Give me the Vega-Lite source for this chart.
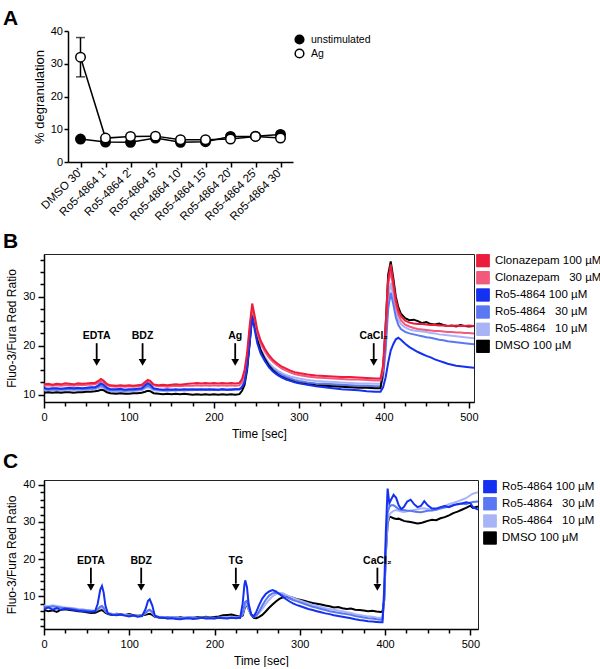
{
"$schema": "https://vega.github.io/schema/vega-lite/v6.json",
"background": "white",
"padding": {"left": 2, "top": 8, "right": 0, "bottom": 0},
"config": {
 "font": "Liberation Sans",
 "view": {"stroke": "#222", "strokeWidth": 1},
 "axis": {"grid": false, "domainColor": "black", "domainWidth": 1.5, "tickColor": "black", "tickWidth": 1.5, "tickSize": 5, "labelColor": "black", "titleColor": "black", "labelFontSize": 11, "titleFontSize": 12, "titleFontWeight": "normal", "labelPadding": 3, "labelOverlap": false, "labelFlush": false},
 "legend": {"labelColor": "black", "labelFontSize": 11.5, "padding": 0},
 "title": {"fontSize": 21, "fontWeight": "bold", "anchor": "start", "frame": "group", "color": "black"}
},
"spacing": 92,
"bounds": "flush",
"resolve": {"scale": {"x": "independent", "y": "independent", "color": "independent", "fill": "independent"}, "legend": {"color": "independent", "fill": "independent"}},
"vconcat": [
{
 "width": 249, "height": 131,
 "title": {"text": "A", "dx": -41, "offset": -4},
 "view": {"stroke": null},
 "encoding": {
  "x": {"field": "c", "type": "ordinal", "sort": null, "scale": {"type": "point", "domain": ["DMSO 30'", "Ro5-4864 1'", "Ro5-4864 2'", "Ro5-4864 5'", "Ro5-4864 10'", "Ro5-4864 15'", "Ro5-4864 20'", "Ro5-4864 25'", "Ro5-4864 30'"], "range": [24, 249], "padding": 0.5}, "axis": {"title": null, "labelAngle": -45, "labelAlign": "right", "labelBaseline": "middle", "labelFontSize": 11.5}},
  "y": {"field": "v", "type": "quantitative", "title": "% degranulation", "scale": {"domain": [0, 40], "nice": false}, "axis": {"values": [0, 10, 20, 30, 40], "tickCount": 5, "labelOverlap": false, "offset": -24, "tickSize": 4, "labelPadding": 1.5, "titleFontSize": 13, "titlePadding": 4}}
 },
 "layer": [
  {"data": {"values": [
   {"c": "DMSO 30'", "s": "unstimulated", "v": 7.0},
   {"c": "Ro5-4864 1'", "s": "unstimulated", "v": 6.1},
   {"c": "Ro5-4864 2'", "s": "unstimulated", "v": 6.0},
   {"c": "Ro5-4864 5'", "s": "unstimulated", "v": 7.3},
   {"c": "Ro5-4864 10'", "s": "unstimulated", "v": 6.0},
   {"c": "Ro5-4864 15'", "s": "unstimulated", "v": 6.2},
   {"c": "Ro5-4864 20'", "s": "unstimulated", "v": 7.8},
   {"c": "Ro5-4864 25'", "s": "unstimulated", "v": 7.9},
   {"c": "Ro5-4864 30'", "s": "unstimulated", "v": 8.4},
   {"c": "DMSO 30'", "s": "Ag", "v": 32.0},
   {"c": "Ro5-4864 1'", "s": "Ag", "v": 7.3},
   {"c": "Ro5-4864 2'", "s": "Ag", "v": 7.8},
   {"c": "Ro5-4864 5'", "s": "Ag", "v": 7.9},
   {"c": "Ro5-4864 10'", "s": "Ag", "v": 6.8},
   {"c": "Ro5-4864 15'", "s": "Ag", "v": 6.8},
   {"c": "Ro5-4864 20'", "s": "Ag", "v": 7.0},
   {"c": "Ro5-4864 25'", "s": "Ag", "v": 7.8},
   {"c": "Ro5-4864 30'", "s": "Ag", "v": 7.3}
  ], "name": "degr"},
   "mark": {"type": "line", "color": "black", "strokeWidth": 1.5},
   "encoding": {"detail": {"field": "s"}}},
  {"data": {"values": [{"c": "DMSO 30'", "v": 26, "v2": 38}]},
   "mark": {"type": "rule", "color": "black", "strokeWidth": 1.5},
   "encoding": {"y2": {"field": "v2"}}},
  {"data": {"values": [{"c": "DMSO 30'", "v": 26}, {"c": "DMSO 30'", "v": 38}]},
   "mark": {"type": "tick", "orient": "horizontal", "size": 9, "thickness": 1.5, "color": "black"}},
  {"data": {"name": "degr"},
   "mark": {"type": "point", "shape": "circle", "filled": true, "size": 90, "stroke": "black", "strokeWidth": 1.5, "opacity": 1},
   "encoding": {
    "fill": {"field": "s", "type": "nominal", "scale": {"domain": ["unstimulated", "Ag"], "range": ["black", "white"]}, "legend": {"title": null, "orient": "none", "legendX": 250, "legendY": 1.5, "symbolType": "circle", "symbolStrokeColor": "black", "symbolStrokeWidth": 1.5, "symbolSize": 75, "labelFontSize": 10.5, "rowPadding": 0, "clipHeight": 14, "labelOffset": 6}}}}
 ]
},
{
 "spacing": 78,
 "bounds": "flush",
 "resolve": {"scale": {"x": "independent", "y": "independent", "color": "independent"}, "legend": {"color": "independent"}},
 "vconcat": [
 {
  "width": 430, "height": 148,
  "title": {"text": "B", "dx": -41, "offset": 2},
  "encoding": {
   "x": {"field": "t", "type": "quantitative", "title": "Time [sec]", "scale": {"domain": [0, 506], "nice": false}, "axis": {"values": [0,25,50,75,100,125,150,175,200,225,250,275,300,325,350,375,400,425,450,475,500], "labelExpr": "datum.value % 100 == 0 ? datum.label : ''", "tickSize": {"condition": {"test": "datum.value % 100 == 0", "value": 6}, "value": 4}, "titlePadding": 6}},
   "y": {"field": "v", "type": "quantitative", "title": "Fluo-3/Fura Red Ratio", "scale": {"domain": [8.5, 38.7], "nice": false}, "axis": {"values": [10,12.5,15,17.5,20,22.5,25,27.5,30,32.5,35,37.5], "labelExpr": "datum.value % 10 == 0 ? datum.label : ''", "tickSize": {"condition": {"test": "datum.value % 10 == 0", "value": 6}, "value": 4}, "titlePadding": 4}}
  },
  "layer": [
   {"data": {"values": [{"s": "c100", "t": -100, "v": 20}, {"s": "c30", "t": -100, "v": 20}, {"s": "r100", "t": -100, "v": 20}, {"s": "r30", "t": -100, "v": 20}, {"s": "r10", "t": -100, "v": 20}, {"s": "d", "t": -100, "v": 20}]},
    "mark": {"type": "point", "shape": "square", "filled": true, "size": 160, "stroke": "#222", "strokeWidth": 1, "opacity": 1, "clip": true},
    "encoding": {
     "color": {"field": "s", "type": "nominal", "scale": {"domain": ["c100", "c30", "r100", "r30", "r10", "d"], "range": ["#ec1c3c", "#f25a7c", "#1430f0", "#5a78f2", "#a9b4f6", "#000000"]}, "legend": {"title": null, "orient": "right", "offset": 2, "symbolType": "square", "symbolSize": 160, "symbolStrokeColor": "#222", "symbolStrokeWidth": 1, "symbolOpacity": 1, "rowPadding": 3.1, "clipHeight": 13.5, "labelOffset": 5, "labelFontSize": 11.5, "labelExpr": "datum.label == 'c100' ? 'Clonazepam 100 µM' : datum.label == 'c30' ? 'Clonazepam \u00a0\u00a030 µM' : datum.label == 'r100' ? 'Ro5-4864 100 µM' : datum.label == 'r30' ? 'Ro5-4864 \u00a0\u00a030 µM' : datum.label == 'r10' ? 'Ro5-4864 \u00a0\u00a010 µM' : 'DMSO 100 µM'"}}
    }
   },
   {"data": {"values": [
    {"t":0,"c100":12.1,"c30":11.8,"r100":11.3,"r30":11.1,"r10":10.9,"d":10.4},
    {"t":5,"c100":12.2,"c30":11.9,"r100":11.2,"r30":11.0,"r10":10.8,"d":10.5},
    {"t":10,"c100":12.0,"c30":11.8,"r100":11.3,"r30":11.1,"r10":10.9,"d":10.4},
    {"t":15,"c100":12.2,"c30":11.9,"r100":11.3,"r30":11.0,"r10":10.9,"d":10.5},
    {"t":20,"c100":12.1,"c30":11.8,"r100":11.2,"r30":11.1,"r10":10.8,"d":10.4},
    {"t":25,"c100":12.3,"c30":11.9,"r100":11.3,"r30":11.1,"r10":10.9,"d":10.5},
    {"t":30,"c100":12.2,"c30":11.9,"r100":11.4,"r30":11.2,"r10":11.0,"d":10.5},
    {"t":35,"c100":12.1,"c30":11.8,"r100":11.3,"r30":11.1,"r10":10.9,"d":10.4},
    {"t":40,"c100":12.3,"c30":12.0,"r100":11.4,"r30":11.2,"r10":11.0,"d":10.5},
    {"t":45,"c100":12.2,"c30":11.9,"r100":11.3,"r30":11.1,"r10":10.9,"d":10.5},
    {"t":50,"c100":12.3,"c30":12.0,"r100":11.4,"r30":11.2,"r10":11.0,"d":10.6},
    {"t":55,"c100":12.4,"c30":12.0,"r100":11.5,"r30":11.2,"r10":11.1,"d":10.6},
    {"t":60,"c100":12.4,"c30":12.1,"r100":11.5,"r30":11.3,"r10":11.1,"d":10.7},
    {"t":64,"c100":12.8,"c30":12.4,"r100":11.9,"r30":11.6,"r10":11.3,"d":10.8},
    {"t":67,"c100":13.2,"c30":12.8,"r100":12.3,"r30":11.9,"r10":11.6,"d":11.0},
    {"t":70,"c100":12.9,"c30":12.5,"r100":12.0,"r30":11.6,"r10":11.3,"d":10.9},
    {"t":74,"c100":12.2,"c30":11.9,"r100":11.4,"r30":11.1,"r10":10.9,"d":10.5},
    {"t":78,"c100":11.9,"c30":11.7,"r100":11.1,"r30":10.9,"r10":10.7,"d":10.3},
    {"t":85,"c100":11.8,"c30":11.6,"r100":11.1,"r30":10.9,"r10":10.6,"d":10.2},
    {"t":90,"c100":11.9,"c30":11.7,"r100":11.2,"r30":10.9,"r10":10.7,"d":10.3},
    {"t":95,"c100":11.8,"c30":11.6,"r100":11.0,"r30":10.8,"r10":10.6,"d":10.2},
    {"t":100,"c100":11.9,"c30":11.7,"r100":11.1,"r30":10.9,"r10":10.7,"d":10.2},
    {"t":105,"c100":11.8,"c30":11.6,"r100":11.1,"r30":10.9,"r10":10.7,"d":10.3},
    {"t":110,"c100":11.9,"c30":11.7,"r100":11.2,"r30":11.0,"r10":10.8,"d":10.3},
    {"t":115,"c100":12.0,"c30":11.8,"r100":11.3,"r30":11.1,"r10":10.9,"d":10.4},
    {"t":119,"c100":12.6,"c30":12.3,"r100":11.9,"r30":11.5,"r10":11.3,"d":10.6},
    {"t":122,"c100":13.0,"c30":12.6,"r100":12.3,"r30":11.8,"r10":11.5,"d":10.8},
    {"t":125,"c100":12.8,"c30":12.4,"r100":12.0,"r30":11.6,"r10":11.3,"d":10.7},
    {"t":129,"c100":12.1,"c30":11.9,"r100":11.3,"r30":11.1,"r10":10.9,"d":10.3},
    {"t":135,"c100":11.9,"c30":11.7,"r100":11.1,"r30":11.0,"r10":10.8,"d":10.2},
    {"t":140,"c100":12.0,"c30":11.7,"r100":11.0,"r30":10.9,"r10":10.8,"d":10.1},
    {"t":145,"c100":11.9,"c30":11.6,"r100":11.1,"r30":10.9,"r10":10.7,"d":10.2},
    {"t":150,"c100":12.0,"c30":11.7,"r100":11.0,"r30":11.0,"r10":10.8,"d":10.1},
    {"t":155,"c100":12.1,"c30":11.8,"r100":11.1,"r30":10.9,"r10":10.8,"d":10.2},
    {"t":160,"c100":12.0,"c30":11.7,"r100":11.0,"r30":11.0,"r10":10.9,"d":10.1},
    {"t":165,"c100":12.1,"c30":11.8,"r100":11.1,"r30":11.0,"r10":10.8,"d":10.2},
    {"t":170,"c100":12.2,"c30":11.8,"r100":11.0,"r30":11.1,"r10":10.9,"d":10.1},
    {"t":175,"c100":12.3,"c30":11.8,"r100":11.1,"r30":11.0,"r10":10.9,"d":10.0},
    {"t":180,"c100":12.4,"c30":11.9,"r100":11.0,"r30":11.1,"r10":11.0,"d":10.1},
    {"t":185,"c100":12.3,"c30":11.8,"r100":11.1,"r30":11.0,"r10":10.9,"d":10.0},
    {"t":190,"c100":12.4,"c30":11.9,"r100":11.0,"r30":11.1,"r10":11.0,"d":10.1},
    {"t":195,"c100":12.3,"c30":11.8,"r100":11.1,"r30":11.0,"r10":10.9,"d":10.0},
    {"t":200,"c100":12.4,"c30":11.9,"r100":11.0,"r30":11.1,"r10":11.0,"d":10.1},
    {"t":205,"c100":12.3,"c30":11.8,"r100":11.0,"r30":11.0,"r10":10.9,"d":10.0},
    {"t":210,"c100":12.4,"c30":11.9,"r100":11.1,"r30":11.1,"r10":11.0,"d":10.1},
    {"t":215,"c100":12.3,"c30":11.8,"r100":11.0,"r30":11.0,"r10":11.0,"d":10.0},
    {"t":220,"c100":12.4,"c30":11.9,"r100":11.0,"r30":11.1,"r10":11.0,"d":10.1},
    {"t":225,"c100":12.3,"c30":11.8,"r100":11.1,"r30":11.1,"r10":11.0,"d":10.0},
    {"t":230,"c100":12.4,"c30":11.9,"r100":11.1,"r30":11.1,"r10":11.1,"d":10.1},
    {"t":233,"c100":13.2,"c30":12.6,"r100":11.5,"r30":11.6,"r10":11.6,"d":10.8},
    {"t":236,"c100":15.0,"c30":14.2,"r100":12.5,"r30":12.8,"r10":12.9,"d":12.0},
    {"t":239,"c100":18.5,"c30":17.5,"r100":15.5,"r30":15.8,"r10":16.2,"d":15.0},
    {"t":242,"c100":24.0,"c30":23.0,"r100":20.5,"r30":21.0,"r10":21.5,"d":20.5},
    {"t":245,"c100":28.6,"c30":27.6,"r100":25.8,"r30":26.2,"r10":26.8,"d":26.4},
    {"t":248,"c100":26.0,"c30":25.2,"r100":23.2,"r30":23.8,"r10":24.4,"d":24.0},
    {"t":251,"c100":23.2,"c30":22.5,"r100":20.5,"r30":21.0,"r10":21.6,"d":21.2},
    {"t":255,"c100":21.0,"c30":20.4,"r100":18.4,"r30":18.9,"r10":19.4,"d":19.0},
    {"t":260,"c100":19.3,"c30":18.8,"r100":16.8,"r30":17.3,"r10":17.7,"d":17.2},
    {"t":265,"c100":18.0,"c30":17.5,"r100":15.5,"r30":16.0,"r10":16.4,"d":15.8},
    {"t":270,"c100":17.0,"c30":16.6,"r100":14.6,"r30":15.1,"r10":15.5,"d":14.8},
    {"t":275,"c100":16.3,"c30":15.9,"r100":14.0,"r30":14.5,"r10":14.9,"d":14.1},
    {"t":280,"c100":15.7,"c30":15.3,"r100":13.5,"r30":14.0,"r10":14.4,"d":13.6},
    {"t":285,"c100":15.3,"c30":14.9,"r100":13.1,"r30":13.6,"r10":14.0,"d":13.2},
    {"t":290,"c100":14.9,"c30":14.5,"r100":12.8,"r30":13.3,"r10":13.7,"d":12.9},
    {"t":295,"c100":14.6,"c30":14.2,"r100":12.5,"r30":13.0,"r10":13.5,"d":12.6},
    {"t":300,"c100":14.4,"c30":14.0,"r100":12.3,"r30":12.8,"r10":13.3,"d":12.4},
    {"t":310,"c100":14.1,"c30":13.7,"r100":12.0,"r30":12.5,"r10":13.0,"d":12.1},
    {"t":320,"c100":13.9,"c30":13.5,"r100":11.7,"r30":12.3,"r10":12.8,"d":11.9},
    {"t":330,"c100":13.8,"c30":13.4,"r100":11.5,"r30":12.2,"r10":12.7,"d":11.8},
    {"t":340,"c100":13.7,"c30":13.3,"r100":11.3,"r30":12.1,"r10":12.6,"d":11.7},
    {"t":350,"c100":13.6,"c30":13.2,"r100":11.1,"r30":12.0,"r10":12.5,"d":11.6},
    {"t":360,"c100":13.6,"c30":13.1,"r100":11.0,"r30":11.9,"r10":12.4,"d":11.5},
    {"t":370,"c100":13.5,"c30":13.1,"r100":10.9,"r30":11.8,"r10":12.3,"d":11.4},
    {"t":380,"c100":13.4,"c30":13.0,"r100":10.7,"r30":11.8,"r10":12.3,"d":11.4},
    {"t":390,"c100":13.3,"c30":12.9,"r100":10.6,"r30":11.7,"r10":12.2,"d":11.3},
    {"t":396,"c100":13.3,"c30":12.9,"r100":10.6,"r30":11.7,"r10":12.2,"d":11.3},
    {"t":399,"c100":16.0,"c30":15.0,"r100":11.5,"r30":13.5,"r10":14.0,"d":15.0},
    {"t":402,"c100":24.0,"c30":23.0,"r100":13.5,"r30":19.0,"r10":21.0,"d":24.0},
    {"t":405,"c100":33.5,"c30":32.5,"r100":16.5,"r30":27.5,"r10":29.5,"d":34.5},
    {"t":408,"c100":36.6,"c30":35.2,"r100":19.0,"r30":30.8,"r10":32.8,"d":37.2},
    {"t":411,"c100":33.0,"c30":31.8,"r100":20.3,"r30":28.5,"r10":30.0,"d":33.8},
    {"t":414,"c100":29.3,"c30":28.3,"r100":21.3,"r30":25.8,"r10":27.0,"d":30.0},
    {"t":417,"c100":27.2,"c30":26.3,"r100":21.6,"r30":24.2,"r10":25.3,"d":27.8},
    {"t":420,"c100":26.0,"c30":25.2,"r100":21.2,"r30":23.4,"r10":24.4,"d":26.5},
    {"t":425,"c100":25.1,"c30":24.3,"r100":20.4,"r30":22.8,"r10":23.7,"d":25.6},
    {"t":430,"c100":24.7,"c30":23.9,"r100":19.7,"r30":22.5,"r10":23.3,"d":25.2},
    {"t":435,"c100":24.5,"c30":23.6,"r100":19.2,"r30":22.3,"r10":23.1,"d":25.3},
    {"t":440,"c100":24.4,"c30":23.4,"r100":18.7,"r30":22.1,"r10":23.0,"d":25.0},
    {"t":445,"c100":24.4,"c30":23.3,"r100":18.3,"r30":21.9,"r10":22.9,"d":24.6},
    {"t":450,"c100":24.3,"c30":23.2,"r100":17.9,"r30":21.7,"r10":22.8,"d":24.8},
    {"t":455,"c100":24.2,"c30":23.1,"r100":17.6,"r30":21.6,"r10":22.6,"d":24.4},
    {"t":460,"c100":24.2,"c30":23.0,"r100":17.2,"r30":21.4,"r10":22.5,"d":24.3},
    {"t":465,"c100":24.1,"c30":23.0,"r100":16.9,"r30":21.2,"r10":22.3,"d":24.5},
    {"t":470,"c100":24.1,"c30":22.9,"r100":16.6,"r30":21.1,"r10":22.2,"d":24.2},
    {"t":475,"c100":24.0,"c30":22.8,"r100":16.3,"r30":20.9,"r10":22.1,"d":24.0},
    {"t":480,"c100":24.0,"c30":22.8,"r100":16.1,"r30":20.8,"r10":22.0,"d":24.1},
    {"t":485,"c100":24.1,"c30":22.7,"r100":15.9,"r30":20.7,"r10":21.9,"d":23.9},
    {"t":490,"c100":24.0,"c30":22.7,"r100":15.8,"r30":20.6,"r10":21.8,"d":24.2},
    {"t":495,"c100":24.0,"c30":22.6,"r100":15.7,"r30":20.5,"r10":21.7,"d":24.0},
    {"t":500,"c100":24.1,"c30":22.6,"r100":15.6,"r30":20.4,"r10":21.6,"d":23.9},
    {"t":506,"c100":24.0,"c30":22.5,"r100":15.5,"r30":20.3,"r10":21.5,"d":24.0}
   ]},
    "transform": [{"fold": ["r10", "r30", "d", "c30", "r100", "c100"], "as": ["s", "v"]}],
    "mark": {"type": "line", "strokeWidth": 2, "clip": true},
    "encoding": {
     "color": {"field": "s", "type": "nominal", "legend": {"title": null, "orient": "right", "offset": 2, "symbolType": "square", "symbolSize": 160, "symbolStrokeColor": "#222", "symbolStrokeWidth": 1, "symbolOpacity": 1, "rowPadding": 3.1, "clipHeight": 13.5, "labelOffset": 5, "labelFontSize": 11.5, "labelExpr": "datum.label == 'c100' ? 'Clonazepam 100 µM' : datum.label == 'c30' ? 'Clonazepam \u00a0\u00a030 µM' : datum.label == 'r100' ? 'Ro5-4864 100 µM' : datum.label == 'r30' ? 'Ro5-4864 \u00a0\u00a030 µM' : datum.label == 'r10' ? 'Ro5-4864 \u00a0\u00a010 µM' : 'DMSO 100 µM'"}}
    }
   },
   {"data": {"values": [{"t": 62, "v": 20.5, "v2": 17.2}, {"t": 116, "v": 20.5, "v2": 17.2}, {"t": 225, "v": 20.5, "v2": 17.2}, {"t": 388, "v": 20.5, "v2": 17.2}]},
    "mark": {"type": "rule", "color": "black", "strokeWidth": 1.8}, "encoding": {"y2": {"field": "v2"}}},
   {"data": {"values": [{"t": 62, "v": 16.6}, {"t": 116, "v": 16.6}, {"t": 225, "v": 16.6}, {"t": 388, "v": 16.6}]},
    "mark": {"type": "point", "shape": "triangle-down", "filled": true, "size": 60, "color": "black", "opacity": 1}},
   {"data": {"values": [{"t": 62, "v": 21.9, "lab": "EDTA"}, {"t": 116, "v": 21.9, "lab": "BDZ"}, {"t": 225, "v": 21.9, "lab": "Ag"}, {"t": 388, "v": 21.9, "lab": "CaCl₂"}]},
    "mark": {"type": "text", "fontWeight": "bold", "fontSize": 10.5, "align": "center", "baseline": "middle", "color": "black"}, "encoding": {"text": {"field": "lab"}}}
  ]
 },
 {
  "width": 434, "height": 149,
  "title": {"text": "C", "dx": -41, "offset": 7},
  "encoding": {
   "x": {"field": "t", "type": "quantitative", "title": "Time [sec]", "scale": {"domain": [0, 509], "nice": false}, "axis": {"values": [0,25,50,75,100,125,150,175,200,225,250,275,300,325,350,375,400,425,450,475,500], "labelExpr": "datum.value % 100 == 0 ? datum.label : ''", "tickSize": {"condition": {"test": "datum.value % 100 == 0", "value": 6}, "value": 4}, "titlePadding": 6}},
   "y": {"field": "v", "type": "quantitative", "title": "Fluo-3/Fura Red Ratio", "scale": {"domain": [1.2, 41.3], "nice": false}, "axis": {"values": [2,4,6,8,10,12,14,16,18,20,22,24,26,28,30,32,34,36,38,40], "labelExpr": "datum.value % 10 == 0 ? datum.label : ''", "tickSize": {"condition": {"test": "datum.value % 10 == 0", "value": 6}, "value": 4}, "titlePadding": 4}}
  },
  "layer": [
   {"data": {"values": [{"s": "r100", "t": -100, "v": 20}, {"s": "r30", "t": -100, "v": 20}, {"s": "r10", "t": -100, "v": 20}, {"s": "d", "t": -100, "v": 20}]},
    "mark": {"type": "point", "shape": "square", "filled": true, "size": 160, "stroke": "#222", "strokeWidth": 1, "opacity": 1, "clip": true},
    "encoding": {
     "color": {"field": "s", "type": "nominal", "scale": {"domain": ["r100", "r30", "r10", "d"], "range": ["#1430f0", "#5a78f2", "#a9b4f6", "#000000"]}, "legend": {"title": null, "orient": "right", "offset": 5, "symbolType": "square", "symbolSize": 160, "symbolStrokeColor": "#222", "symbolStrokeWidth": 1, "symbolOpacity": 1, "rowPadding": 3.1, "clipHeight": 13.5, "labelOffset": 5, "labelFontSize": 11.5, "labelExpr": "datum.label == 'r100' ? 'Ro5-4864 100 µM' : datum.label == 'r30' ? 'Ro5-4864 \u00a0\u00a030 µM' : datum.label == 'r10' ? 'Ro5-4864 \u00a0\u00a010 µM' : 'DMSO 100 µM'"}}
    }
   },
   {"data": {"values": [
    {"t":0,"r100":6.5,"r30":7.2,"r10":7.5,"d":6.3},
    {"t":5,"r100":7.0,"r30":7.0,"r10":7.3,"d":6.0},
    {"t":10,"r100":6.4,"r30":7.3,"r10":7.6,"d":6.2},
    {"t":15,"r100":6.8,"r30":7.1,"r10":7.4,"d":5.8},
    {"t":20,"r100":6.3,"r30":6.9,"r10":7.2,"d":6.4},
    {"t":25,"r100":6.7,"r30":6.8,"r10":7.0,"d":6.5},
    {"t":30,"r100":6.5,"r30":6.7,"r10":6.9,"d":6.3},
    {"t":35,"r100":6.3,"r30":6.6,"r10":6.8,"d":6.2},
    {"t":40,"r100":6.1,"r30":6.4,"r10":6.6,"d":6.0},
    {"t":45,"r100":6.0,"r30":6.3,"r10":6.5,"d":5.9},
    {"t":50,"r100":5.9,"r30":6.2,"r10":6.3,"d":5.7},
    {"t":55,"r100":5.8,"r30":6.1,"r10":6.2,"d":5.5},
    {"t":60,"r100":6.0,"r30":6.0,"r10":6.1,"d":5.6},
    {"t":63,"r100":8.0,"r30":6.5,"r10":6.4,"d":5.9},
    {"t":66,"r100":11.8,"r30":7.2,"r10":6.9,"d":6.2},
    {"t":68,"r100":12.8,"r30":7.4,"r10":7.0,"d":6.3},
    {"t":70,"r100":11.0,"r30":6.9,"r10":6.6,"d":6.0},
    {"t":72,"r100":7.5,"r30":6.0,"r10":6.0,"d":5.6},
    {"t":75,"r100":5.3,"r30":5.4,"r10":5.5,"d":5.2},
    {"t":80,"r100":5.0,"r30":5.2,"r10":5.3,"d":5.0},
    {"t":85,"r100":4.9,"r30":5.1,"r10":5.2,"d":5.3},
    {"t":90,"r100":5.1,"r30":5.0,"r10":5.1,"d":5.2},
    {"t":95,"r100":4.8,"r30":4.9,"r10":5.0,"d":5.0},
    {"t":100,"r100":4.6,"r30":4.8,"r10":4.9,"d":5.2},
    {"t":105,"r100":4.9,"r30":4.7,"r10":4.8,"d":4.9},
    {"t":110,"r100":4.5,"r30":4.6,"r10":4.7,"d":4.8},
    {"t":115,"r100":4.7,"r30":4.8,"r10":4.9,"d":4.9},
    {"t":119,"r100":6.5,"r30":5.5,"r10":5.4,"d":5.0},
    {"t":122,"r100":8.8,"r30":6.2,"r10":6.0,"d":5.2},
    {"t":124,"r100":9.2,"r30":6.4,"r10":6.2,"d":5.3},
    {"t":127,"r100":7.5,"r30":5.8,"r10":5.6,"d":5.0},
    {"t":130,"r100":4.8,"r30":4.7,"r10":4.6,"d":4.5},
    {"t":135,"r100":4.3,"r30":4.4,"r10":4.5,"d":4.3},
    {"t":140,"r100":4.2,"r30":4.3,"r10":4.4,"d":4.2},
    {"t":145,"r100":4.0,"r30":4.4,"r10":4.3,"d":4.1},
    {"t":150,"r100":4.1,"r30":4.2,"r10":4.3,"d":4.3},
    {"t":155,"r100":3.9,"r30":4.3,"r10":4.4,"d":4.2},
    {"t":160,"r100":3.8,"r30":4.1,"r10":4.2,"d":4.4},
    {"t":165,"r100":4.0,"r30":4.2,"r10":4.3,"d":4.1},
    {"t":170,"r100":4.1,"r30":4.3,"r10":4.4,"d":4.3},
    {"t":175,"r100":3.9,"r30":4.2,"r10":4.3,"d":4.2},
    {"t":180,"r100":4.0,"r30":4.1,"r10":4.2,"d":4.4},
    {"t":185,"r100":4.2,"r30":4.3,"r10":4.2,"d":4.3},
    {"t":190,"r100":4.0,"r30":4.1,"r10":4.3,"d":4.5},
    {"t":195,"r100":4.1,"r30":4.2,"r10":4.2,"d":4.3},
    {"t":200,"r100":4.0,"r30":4.1,"r10":4.1,"d":4.4},
    {"t":205,"r100":4.2,"r30":4.3,"r10":4.2,"d":4.6},
    {"t":210,"r100":4.1,"r30":4.2,"r10":4.3,"d":4.9},
    {"t":215,"r100":4.0,"r30":4.3,"r10":4.2,"d":5.0},
    {"t":220,"r100":4.2,"r30":4.2,"r10":4.4,"d":5.1},
    {"t":225,"r100":4.1,"r30":4.3,"r10":4.3,"d":4.8},
    {"t":230,"r100":4.2,"r30":4.2,"r10":4.4,"d":4.5},
    {"t":233,"r100":8.0,"r30":5.5,"r10":5.2,"d":4.8},
    {"t":235,"r100":13.0,"r30":7.5,"r10":6.8,"d":6.5},
    {"t":236,"r100":14.3,"r30":8.5,"r10":7.6,"d":7.2},
    {"t":238,"r100":12.5,"r30":8.8,"r10":7.8,"d":7.6},
    {"t":240,"r100":8.0,"r30":7.0,"r10":6.4,"d":6.5},
    {"t":243,"r100":5.2,"r30":5.0,"r10":5.0,"d":5.0},
    {"t":246,"r100":4.6,"r30":4.5,"r10":4.6,"d":4.2},
    {"t":249,"r100":5.8,"r30":4.8,"r10":4.8,"d":4.1},
    {"t":252,"r100":7.5,"r30":5.8,"r10":5.4,"d":4.4},
    {"t":256,"r100":9.4,"r30":7.5,"r10":6.6,"d":5.0},
    {"t":260,"r100":10.6,"r30":9.0,"r10":7.9,"d":5.9},
    {"t":264,"r100":11.3,"r30":10.2,"r10":9.0,"d":6.9},
    {"t":268,"r100":11.7,"r30":10.8,"r10":10.0,"d":7.8},
    {"t":272,"r100":11.3,"r30":11.0,"r10":10.6,"d":8.6},
    {"t":276,"r100":10.6,"r30":10.7,"r10":10.9,"d":9.3},
    {"t":280,"r100":9.9,"r30":10.3,"r10":10.8,"d":9.7},
    {"t":284,"r100":9.2,"r30":9.8,"r10":10.4,"d":9.9},
    {"t":288,"r100":8.6,"r30":9.4,"r10":10.0,"d":9.8},
    {"t":292,"r100":8.1,"r30":9.0,"r10":9.6,"d":9.6},
    {"t":296,"r100":7.7,"r30":8.7,"r10":9.2,"d":9.3},
    {"t":300,"r100":7.4,"r30":8.4,"r10":8.9,"d":9.1},
    {"t":305,"r100":7.0,"r30":8.0,"r10":8.5,"d":8.8},
    {"t":310,"r100":6.6,"r30":7.6,"r10":8.1,"d":8.5},
    {"t":315,"r100":6.3,"r30":7.2,"r10":7.7,"d":8.2},
    {"t":320,"r100":6.0,"r30":6.9,"r10":7.4,"d":8.0},
    {"t":325,"r100":5.7,"r30":6.6,"r10":7.1,"d":7.8},
    {"t":330,"r100":5.4,"r30":6.3,"r10":6.8,"d":7.5},
    {"t":335,"r100":5.2,"r30":6.0,"r10":6.6,"d":7.3},
    {"t":340,"r100":4.9,"r30":5.8,"r10":6.4,"d":7.0},
    {"t":345,"r100":4.7,"r30":5.6,"r10":6.2,"d":7.1},
    {"t":350,"r100":4.5,"r30":5.4,"r10":6.0,"d":6.8},
    {"t":355,"r100":4.3,"r30":5.2,"r10":5.7,"d":6.6},
    {"t":360,"r100":4.1,"r30":5.0,"r10":5.5,"d":6.7},
    {"t":365,"r100":3.8,"r30":4.7,"r10":5.2,"d":6.4},
    {"t":370,"r100":3.6,"r30":4.5,"r10":5.0,"d":6.3},
    {"t":375,"r100":3.5,"r30":4.3,"r10":4.8,"d":6.2},
    {"t":380,"r100":3.3,"r30":4.1,"r10":4.6,"d":6.0},
    {"t":385,"r100":3.2,"r30":4.0,"r10":4.5,"d":6.1},
    {"t":390,"r100":3.1,"r30":3.8,"r10":4.3,"d":5.9},
    {"t":395,"r100":3.0,"r30":3.7,"r10":4.2,"d":5.8},
    {"t":397,"r100":3.0,"r30":3.8,"r10":4.3,"d":5.9},
    {"t":399,"r100":12.0,"r30":9.0,"r10":9.0,"d":9.0},
    {"t":401,"r100":28.0,"r30":24.0,"r10":22.0,"d":22.0},
    {"t":403,"r100":39.0,"r30":32.5,"r10":30.0,"d":29.5},
    {"t":405,"r100":35.0,"r30":34.0,"r10":32.0,"d":31.5},
    {"t":407,"r100":36.0,"r30":34.5,"r10":32.5,"d":31.3},
    {"t":410,"r100":37.3,"r30":34.5,"r10":33.0,"d":31.0},
    {"t":413,"r100":36.5,"r30":34.0,"r10":33.2,"d":30.8},
    {"t":416,"r100":34.5,"r30":33.5,"r10":33.0,"d":30.9},
    {"t":419,"r100":33.5,"r30":33.3,"r10":32.8,"d":30.6},
    {"t":422,"r100":34.0,"r30":33.2,"r10":32.7,"d":30.3},
    {"t":426,"r100":35.5,"r30":33.0,"r10":32.9,"d":30.1},
    {"t":430,"r100":36.0,"r30":33.0,"r10":33.0,"d":30.0},
    {"t":434,"r100":34.8,"r30":32.8,"r10":33.2,"d":29.8},
    {"t":438,"r100":34.0,"r30":32.7,"r10":33.4,"d":29.6},
    {"t":442,"r100":34.3,"r30":32.6,"r10":33.6,"d":29.7},
    {"t":446,"r100":35.6,"r30":32.8,"r10":33.7,"d":30.0},
    {"t":450,"r100":34.5,"r30":33.0,"r10":33.5,"d":30.3},
    {"t":455,"r100":33.6,"r30":33.1,"r10":33.4,"d":30.6},
    {"t":460,"r100":33.6,"r30":33.3,"r10":33.5,"d":30.5},
    {"t":465,"r100":34.0,"r30":33.6,"r10":33.9,"d":31.0},
    {"t":470,"r100":34.3,"r30":33.9,"r10":34.3,"d":31.3},
    {"t":475,"r100":34.0,"r30":34.2,"r10":34.8,"d":31.8},
    {"t":480,"r100":34.5,"r30":34.5,"r10":35.1,"d":32.4},
    {"t":485,"r100":34.8,"r30":34.8,"r10":35.5,"d":32.8},
    {"t":490,"r100":35.0,"r30":35.0,"r10":36.0,"d":33.3},
    {"t":495,"r100":35.3,"r30":34.8,"r10":36.4,"d":33.8},
    {"t":500,"r100":35.1,"r30":35.2,"r10":37.2,"d":34.4},
    {"t":503,"r100":34.0,"r30":35.4,"r10":37.6,"d":33.8},
    {"t":509,"r100":33.3,"r30":35.5,"r10":38.0,"d":34.2}
   ]},
    "transform": [{"fold": ["d", "r10", "r30", "r100"], "as": ["s", "v"]}],
    "mark": {"type": "line", "strokeWidth": 2, "clip": true},
    "encoding": {
     "color": {"field": "s", "type": "nominal", "legend": {"title": null, "orient": "right", "offset": 5, "symbolType": "square", "symbolSize": 160, "symbolStrokeColor": "#222", "symbolStrokeWidth": 1, "symbolOpacity": 1, "rowPadding": 3.1, "clipHeight": 13.5, "labelOffset": 5, "labelFontSize": 11.5, "labelExpr": "datum.label == 'r100' ? 'Ro5-4864 100 µM' : datum.label == 'r30' ? 'Ro5-4864 \u00a0\u00a030 µM' : datum.label == 'r10' ? 'Ro5-4864 \u00a0\u00a010 µM' : 'DMSO 100 µM'"}}
    }
   },
   {"data": {"values": [{"t": 55, "v": 17.7, "v2": 13.4}, {"t": 114, "v": 17.7, "v2": 13.4}, {"t": 225, "v": 17.7, "v2": 13.4}, {"t": 391, "v": 17.7, "v2": 13.4}]},
    "mark": {"type": "rule", "color": "black", "strokeWidth": 1.8}, "encoding": {"y2": {"field": "v2"}}},
   {"data": {"values": [{"t": 55, "v": 12.4}, {"t": 114, "v": 12.4}, {"t": 225, "v": 12.4}, {"t": 391, "v": 12.4}]},
    "mark": {"type": "point", "shape": "triangle-down", "filled": true, "size": 60, "color": "black", "opacity": 1}},
   {"data": {"values": [{"t": 55, "v": 19.4, "lab": "EDTA"}, {"t": 114, "v": 19.4, "lab": "BDZ"}, {"t": 225, "v": 19.4, "lab": "TG"}, {"t": 391, "v": 19.4, "lab": "CaCl₂"}]},
    "mark": {"type": "text", "fontWeight": "bold", "fontSize": 10.5, "align": "center", "baseline": "middle", "color": "black"}, "encoding": {"text": {"field": "lab"}}}
  ]
 }
 ]
}
]
}
